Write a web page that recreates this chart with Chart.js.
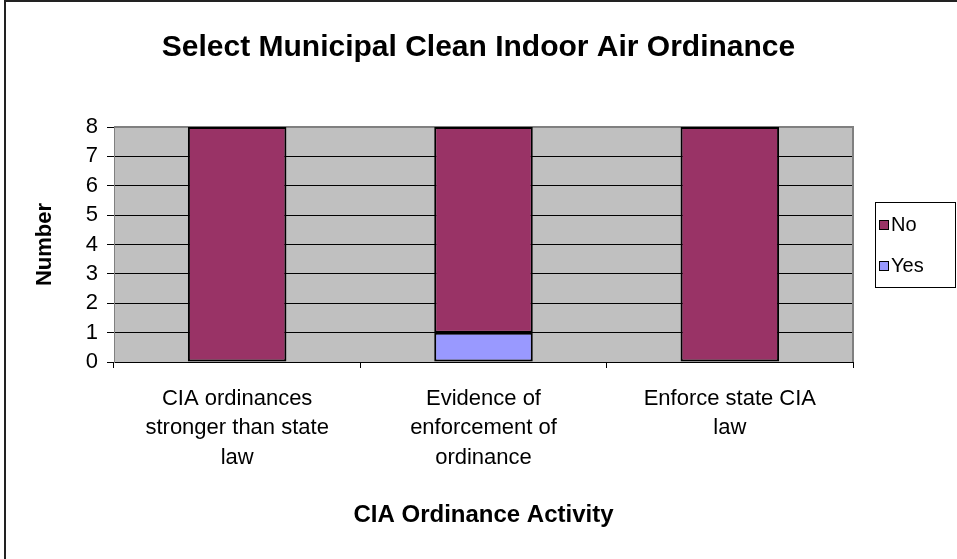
<!DOCTYPE html>
<html>
<head>
<meta charset="utf-8">
<title>Select Municipal Clean Indoor Air Ordinance</title>
<script src="https://cdn.jsdelivr.net/npm/chart.js@4/dist/chart.umd.min.js"></script>
<style>
  html, body { margin: 0; padding: 0; background: #fff; }
  #wrap { width: 957px; height: 559px; }
</style>
</head>
<body>
<div id="wrap"><canvas id="chart" width="957" height="559"></canvas></div>
<script>
// ---- data ----
const categories = [
    ['CIA ordinances', 'stronger than state', 'law'],
    ['Evidence of', 'enforcement of', 'ordinance'],
    ['Enforce state CIA', 'law']
];
const yesValues = [0, 1, 0];
const noValues = [8, 7, 8];
const yTickValues = [0, 1, 2, 3, 4, 5, 6, 7, 8];

const FONT = '"Liberation Sans", Arial, sans-serif';
const COL_NO = '#993366';
const COL_YES = '#9999FF';

// plot area background + grey frame, outer chart frame
const plotFrame = {
    id: 'plotFrame',
    beforeDraw(chart) {
        const { ctx, chartArea: a } = chart;
        ctx.save();
        ctx.fillStyle = '#C0C0C0';
        ctx.fillRect(a.left, a.top, a.right - a.left, a.bottom - a.top);
        // outer border (only top and left visible in the picture)
        ctx.strokeStyle = '#222';
        ctx.lineWidth = 2;
        ctx.beginPath();
        ctx.moveTo(5, chart.height);
        ctx.lineTo(5, 1);
        ctx.lineTo(chart.width, 1);
        ctx.stroke();
        ctx.restore();
    },
    beforeDatasetsDraw(chart) {
        const { ctx, chartArea: a } = chart;
        ctx.save();
        ctx.strokeStyle = '#808080';
        ctx.lineWidth = 2;
        ctx.beginPath();
        ctx.moveTo(a.left, a.top);
        ctx.lineTo(a.right, a.top);
        ctx.lineTo(a.right, a.bottom);
        ctx.stroke();
        ctx.restore();
    }
};

// legend box on the right (Excel order: top series first)
const boxLegend = {
    id: 'boxLegend',
    afterDraw(chart) {
        const { ctx, chartArea: a } = chart;
        const x0 = a.right + 22, y0 = 202, w = 80, h = 85;
        ctx.save();
        ctx.fillStyle = '#fff';
        ctx.fillRect(x0, y0, w, h);
        ctx.strokeStyle = '#000';
        ctx.lineWidth = 1;
        ctx.strokeRect(x0 + 0.5, y0 + 0.5, w, h);
        const items = chart.data.datasets.slice().reverse();
        ctx.font = '20px ' + FONT;
        ctx.textBaseline = 'middle';
        items.forEach((ds, i) => {
            const cy = 225 + i * 41;
            ctx.fillStyle = ds.backgroundColor;
            ctx.fillRect(x0 + 4, cy - 5, 10, 10);
            ctx.strokeStyle = '#000';
            ctx.strokeRect(x0 + 4.5, cy - 4.5, 9, 9);
            ctx.fillStyle = '#000';
            ctx.fillText(ds.label, x0 + 16, cy);
        });
        ctx.restore();
    }
};

new Chart(document.getElementById('chart'), {
    type: 'bar',
    data: {
        labels: categories,
        datasets: [
            { label: 'Yes', data: yesValues, backgroundColor: COL_YES, borderColor: '#000', borderWidth: 2, borderSkipped: false },
            { label: 'No', data: noValues, backgroundColor: COL_NO, borderColor: '#000', borderWidth: 2, borderSkipped: false }
        ]
    },
    options: {
        responsive: false,
        animation: false,
        layout: { padding: 0 },
        datasets: { bar: { categoryPercentage: 1, barPercentage: 0.4 } },
        plugins: {
            legend: { display: false },
            tooltip: { enabled: false },
            title: {
                display: true,
                text: 'Select Municipal Clean Indoor Air Ordinance',
                color: '#000',
                font: { family: FONT, size: 30, weight: 'bold', lineHeight: 1.2 },
                padding: { top: 30, bottom: 61 }
            }
        },
        scales: {
            x: {
                stacked: true,
                offset: true,
                grid: { display: true, drawOnChartArea: false, drawTicks: true, tickLength: 6, color: '#000', offset: true },
                border: { display: true, color: '#000', width: 1 },
                ticks: {
                    color: '#000', maxRotation: 0, autoSkip: false, padding: 16,
                    font: { family: FONT, size: 22, lineHeight: 1.34 }
                },
                title: {
                    display: true, text: 'CIA Ordinance Activity', color: '#000',
                    font: { family: FONT, size: 24, weight: 'bold', lineHeight: 1.2 },
                    padding: { top: 0, bottom: 29.6 }
                },
                afterFit(s) { s.height = 197; }
            },
            y: {
                stacked: true,
                min: 0,
                max: 8,
                afterBuildTicks(s) { s.ticks = yTickValues.map(v => ({ value: v })); },
                grid: { color: '#000', lineWidth: 1, drawTicks: true, tickLength: 7 },
                border: { display: true, color: '#808080', width: 1 },
                ticks: { color: '#000', padding: 9, autoSkip: false, font: { family: FONT, size: 22 } },
                title: {
                    display: true, text: 'Number', color: '#000',
                    font: { family: FONT, size: 22, weight: 'bold', lineHeight: 1.2 },
                    padding: { top: 32, bottom: 0 }
                },
                afterFit(s) { s.width = 114; }
            },
            // empty right-hand box that reserves room for the legend
            legendSpace: {
                position: 'right',
                display: true,
                ticks: { display: false },
                grid: { display: false },
                border: { display: false },
                afterFit(s) { s.width = 104; }
            }
        }
    },
    plugins: [plotFrame, boxLegend]
});
</script>
</body>
</html>
